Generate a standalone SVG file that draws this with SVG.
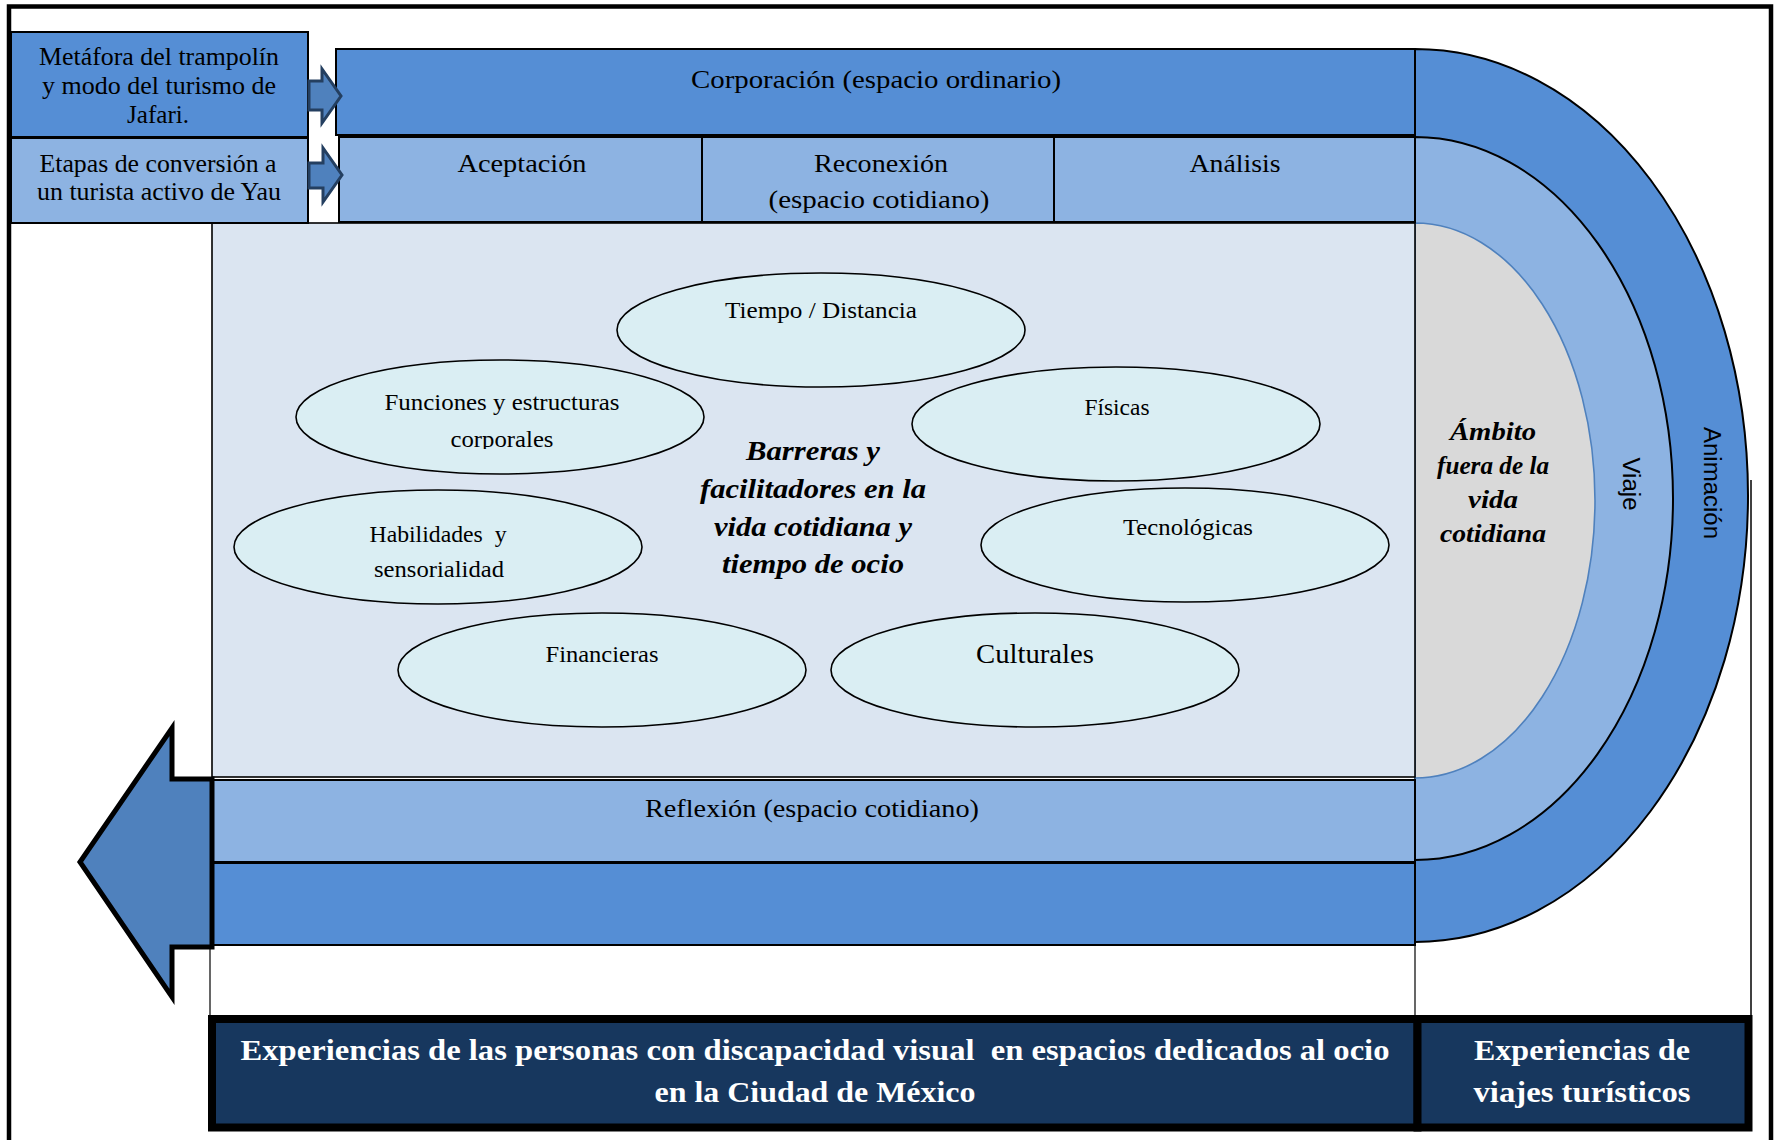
<svg xmlns="http://www.w3.org/2000/svg" width="1775" height="1140" viewBox="0 0 1775 1140">
  <style>
    .t { font-family: "Liberation Serif", "Times New Roman", serif; fill: #000; text-anchor: middle; }
    .lbl { font-size: 26px; }
    .ell-t { font-size: 24px; }
    .bi { font-weight: bold; font-style: italic; }
    .sans { font-family: "Liberation Sans", Arial, sans-serif; font-size: 23px; fill: #000; text-anchor: middle; dominant-baseline: central; }
    .foot { font-family: "Liberation Serif", "Times New Roman", serif; font-weight: bold; font-size: 30px; fill: #fff; text-anchor: middle; }
    .mid { fill: #558ED5; stroke: #000; stroke-width: 2; }
    .light { fill: #8DB3E2; stroke: #000; stroke-width: 2; }
    .ell { fill: #DAEEF3; stroke: #000; stroke-width: 1.6; }
    .navy { fill: #17375E; stroke: #000; stroke-width: 8; }
    .small-arrow { fill: #4F81BD; stroke: #243F60; stroke-width: 3; stroke-linejoin: miter; }
  </style>
  <defs>
    <clipPath id="clip-corporales">
      <rect x="300" y="400" width="400" height="49"/>
    </clipPath>
  </defs>

  <rect width="1775" height="1140" fill="#fff"/>
  <!-- page frame -->
  <rect x="9" y="6.5" width="1762" height="1160" fill="none" stroke="#000" stroke-width="4.5"/>

  <!-- half-rings on the right -->
  <g id="animacion">
    <path d="M1415,49 A333,446.5 0 0 1 1415,942 Z" class="mid"/>
    <text class="sans" transform="translate(1712,483) rotate(90)" textLength="112" lengthAdjust="spacingAndGlyphs">Animación</text>
  </g>
  <g id="viaje">
    <path d="M1415,137 A258,361.5 0 0 1 1415,860 Z" class="light"/>
    <text class="sans" transform="translate(1631,484) rotate(90)" textLength="53" lengthAdjust="spacingAndGlyphs">Viaje</text>
  </g>
  <g id="ambito">
    <path d="M1415,223 A180,277.5 0 0 1 1415,778 Z" fill="#D9D9D9" stroke="#4F81BD" stroke-width="1.6"/>
    <text class="t bi" font-size="25" x="1493" y="440" textLength="86" lengthAdjust="spacingAndGlyphs">Ámbito</text>
    <text class="t bi" font-size="25" x="1493" y="474" textLength="112" lengthAdjust="spacingAndGlyphs">fuera de la</text>
    <text class="t bi" font-size="25" x="1493" y="508" textLength="50" lengthAdjust="spacingAndGlyphs">vida</text>
    <text class="t bi" font-size="25" x="1493" y="542" textLength="106" lengthAdjust="spacingAndGlyphs">cotidiana</text>
  </g>

  <!-- horizontal bands -->
  <g id="corporacion">
    <rect x="336" y="49" width="1079" height="86" class="mid"/>
    <text class="t lbl" x="876" y="88" textLength="370" lengthAdjust="spacingAndGlyphs">Corporación (espacio ordinario)</text>
  </g>
  <g id="aceptacion">
    <rect x="339" y="137" width="363" height="85" class="light"/>
    <text class="t lbl" x="522" y="172" textLength="129" lengthAdjust="spacingAndGlyphs">Aceptación</text>
  </g>
  <g id="reconexion">
    <rect x="702" y="137" width="352" height="85" class="light"/>
    <text class="t lbl" x="881" y="172" textLength="134" lengthAdjust="spacingAndGlyphs">Reconexión</text>
    <text class="t lbl" x="879" y="208" textLength="221" lengthAdjust="spacingAndGlyphs">(espacio cotidiano)</text>
  </g>
  <g id="analisis">
    <rect x="1054" y="137" width="361" height="85" class="light"/>
    <text class="t lbl" x="1235" y="172" textLength="91" lengthAdjust="spacingAndGlyphs">Análisis</text>
  </g>

  <g id="vida-cotidiana">
    <rect x="212" y="223" width="1203" height="554" fill="#DBE5F1" stroke="#000" stroke-width="1.6"/>
    <text class="t bi" font-size="27" x="813" y="460" textLength="134" lengthAdjust="spacingAndGlyphs">Barreras y</text>
    <text class="t bi" font-size="27" x="813" y="498" textLength="226" lengthAdjust="spacingAndGlyphs">facilitadores en la</text>
    <text class="t bi" font-size="27" x="813" y="536" textLength="198" lengthAdjust="spacingAndGlyphs">vida cotidiana y</text>
    <text class="t bi" font-size="27" x="813" y="573" textLength="182" lengthAdjust="spacingAndGlyphs">tiempo de ocio</text>
  </g>

  <g id="reflexion">
    <rect x="212" y="780" width="1203" height="82" class="light"/>
    <text class="t lbl" x="812" y="817" textLength="334" lengthAdjust="spacingAndGlyphs">Reflexión (espacio cotidiano)</text>
  </g>
  <g id="banda-inferior">
    <rect x="212" y="863" width="1203" height="82" class="mid"/>
  </g>

  <!-- barrier / facilitator ellipses -->
  <g id="tiempo">
    <ellipse cx="821" cy="330" rx="204" ry="57" class="ell"/>
    <text class="t ell-t" x="821" y="318" textLength="192" lengthAdjust="spacingAndGlyphs">Tiempo / Distancia</text>
  </g>
  <g id="funciones">
    <ellipse cx="500" cy="417" rx="204" ry="57" class="ell"/>
    <text class="t ell-t" x="502" y="410" textLength="235" lengthAdjust="spacingAndGlyphs">Funciones y estructuras</text>
    <text class="t ell-t" x="502" y="447" textLength="103" lengthAdjust="spacingAndGlyphs" clip-path="url(#clip-corporales)">corporales</text>
  </g>
  <g id="fisicas">
    <ellipse cx="1116" cy="424" rx="204" ry="57" class="ell"/>
    <text class="t ell-t" x="1117" y="415" textLength="65" lengthAdjust="spacingAndGlyphs">Físicas</text>
  </g>
  <g id="habilidades">
    <ellipse cx="438" cy="547" rx="204" ry="57" class="ell"/>
    <text class="t ell-t" x="438" y="542" textLength="137" lengthAdjust="spacingAndGlyphs" xml:space="preserve">Habilidades  y</text>
    <text class="t ell-t" x="439" y="577" textLength="130" lengthAdjust="spacingAndGlyphs">sensorialidad</text>
  </g>
  <g id="tecnologicas">
    <ellipse cx="1185" cy="545" rx="204" ry="57" class="ell"/>
    <text class="t ell-t" x="1188" y="535" textLength="130" lengthAdjust="spacingAndGlyphs">Tecnológicas</text>
  </g>
  <g id="financieras">
    <ellipse cx="602" cy="670" rx="204" ry="57" class="ell"/>
    <text class="t ell-t" x="602" y="662" textLength="113" lengthAdjust="spacingAndGlyphs">Financieras</text>
  </g>
  <g id="culturales">
    <ellipse cx="1035" cy="670" rx="204" ry="57" class="ell"/>
    <text class="t" font-size="27" x="1035" y="663" textLength="118" lengthAdjust="spacingAndGlyphs">Culturales</text>
  </g>

  <!-- source boxes on the upper left -->
  <g id="metafora">
    <rect x="11" y="32" width="297" height="105" class="mid"/>
    <text class="t lbl" x="159" y="65" textLength="240" lengthAdjust="spacingAndGlyphs">Metáfora del trampolín</text>
    <text class="t lbl" x="159" y="94" textLength="234" lengthAdjust="spacingAndGlyphs">y modo del turismo de</text>
    <text class="t lbl" x="158" y="123" textLength="62" lengthAdjust="spacingAndGlyphs">Jafari.</text>
  </g>
  <g id="etapas">
    <rect x="11" y="138" width="297" height="85" class="light"/>
    <text class="t lbl" x="158" y="172" textLength="237" lengthAdjust="spacingAndGlyphs">Etapas de conversión a</text>
    <text class="t lbl" x="159" y="200" textLength="244" lengthAdjust="spacingAndGlyphs">un turista activo de Yau</text>
  </g>

  <!-- connectors -->
  <g id="conectores">
    <polygon class="small-arrow" points="309,81 322,81 322,69 341,96 322,123 322,110 309,110"/>
    <polygon class="small-arrow" points="309,163 323,163 323,148 342,175 323,202 323,188 309,188"/>
    <polygon points="212,779 172,779 172,728 80,862 172,997 172,947 212,947" fill="#4F81BD" stroke="#000" stroke-width="5"/>
    <line x1="210" y1="947" x2="210" y2="1016" stroke="#000" stroke-width="1.2"/>
    <line x1="1415" y1="945" x2="1415" y2="1016" stroke="#000" stroke-width="1.2"/>
    <line x1="1751" y1="480" x2="1751" y2="1016" stroke="#000" stroke-width="1.5"/>
  </g>

  <!-- footer boxes -->
  <g id="experiencias-ocio">
    <rect x="212" y="1019" width="1205.5" height="108.5" class="navy"/>
    <text class="foot" x="815" y="1060" textLength="1149" lengthAdjust="spacingAndGlyphs" xml:space="preserve">Experiencias de las personas con discapacidad visual  en espacios dedicados al ocio</text>
    <text class="foot" x="815" y="1102" textLength="321" lengthAdjust="spacingAndGlyphs">en la Ciudad de México</text>
  </g>
  <g id="experiencias-viajes">
    <rect x="1417.5" y="1019" width="331" height="108.5" class="navy"/>
    <text class="foot" x="1582" y="1060" textLength="216" lengthAdjust="spacingAndGlyphs">Experiencias de</text>
    <text class="foot" x="1582" y="1102" textLength="217" lengthAdjust="spacingAndGlyphs">viajes turísticos</text>
  </g>
</svg>
